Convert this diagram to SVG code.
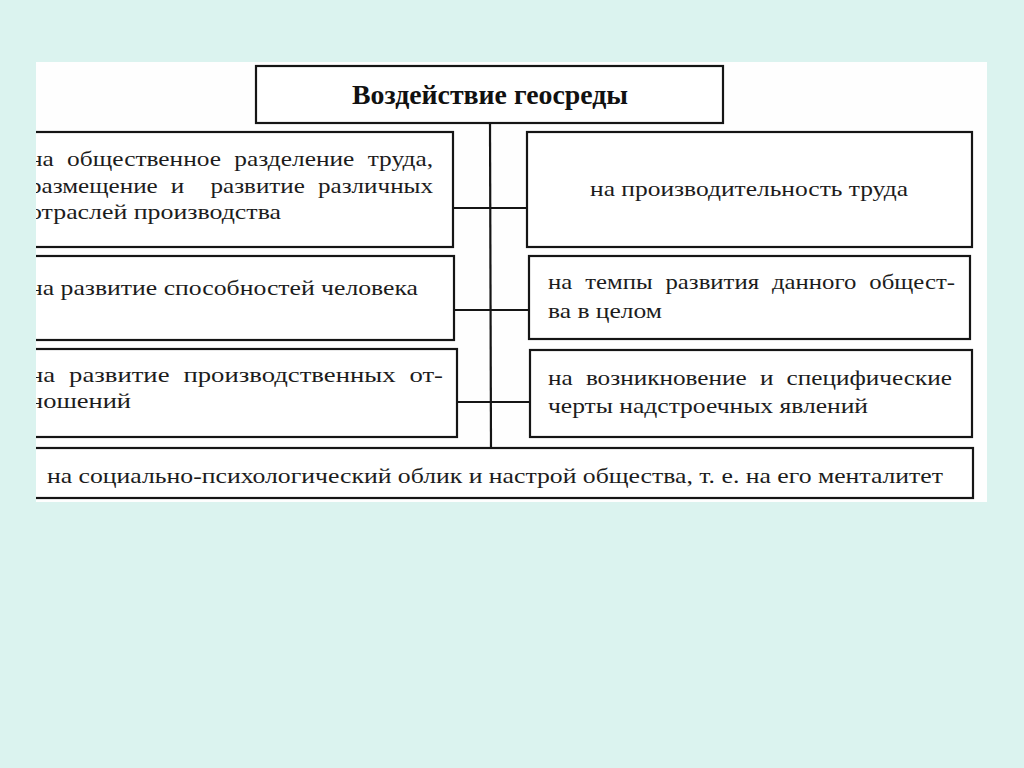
<svg xmlns="http://www.w3.org/2000/svg" width="1024" height="768" viewBox="0 0 1024 768">
  <defs>
    <style>
      .box { fill: #ffffff; stroke: #151515; stroke-width: 2.2; }
      .conn { stroke: #151515; stroke-width: 2.2; fill: none; }
      .t { font-family: "Liberation Serif", "Times New Roman", serif; font-size: 22px; fill: #1c1c1c; }
      .j { word-spacing: 6px; }
      .title { font-family: "Liberation Serif", "Times New Roman", serif; font-size: 27px; font-weight: bold; fill: #111111; }
    </style>
    <clipPath id="panelClip">
      <rect x="36" y="62" width="951" height="440"/>
    </clipPath>
  </defs>
  <rect x="0" y="0" width="1024" height="768" fill="#dbf3ef"/>
  <rect x="36" y="62" width="951" height="440" fill="#fefefe"/>
  <g clip-path="url(#panelClip)">
    <g id="connectors">
      <line class="conn" x1="490" y1="123" x2="491" y2="448"/>
      <line class="conn" x1="453" y1="208" x2="527" y2="208"/>
      <line class="conn" x1="454" y1="310" x2="529" y2="310"/>
      <line class="conn" x1="457" y1="402" x2="530" y2="402"/>
    </g>
    <g id="title">
      <rect class="box" x="256" y="66" width="467" height="57"/>
      <text class="title" x="490" y="104" text-anchor="middle" textLength="276" lengthAdjust="spacingAndGlyphs">Воздействие геосреды</text>
    </g>
    <g id="left1">
      <rect class="box" x="20" y="132" width="433" height="115"/>
      <text class="t j" x="29" y="166" textLength="404" lengthAdjust="spacingAndGlyphs">на общественное разделение труда,</text>
      <text class="t j" x="29" y="193" textLength="404" lengthAdjust="spacingAndGlyphs" xml:space="preserve">размещение и  развитие различных</text>
      <text class="t" x="29" y="219" textLength="252" lengthAdjust="spacingAndGlyphs">отраслей производства</text>
    </g>
    <g id="left2">
      <rect class="box" x="20" y="256" width="434" height="84"/>
      <text class="t" x="29" y="295" textLength="389" lengthAdjust="spacingAndGlyphs">на развитие способностей человека</text>
    </g>
    <g id="left3">
      <rect class="box" x="20" y="349" width="437" height="88"/>
      <text class="t j" x="29" y="382" textLength="414" lengthAdjust="spacingAndGlyphs">на развитие производственных от-</text>
      <text class="t" x="29" y="408" textLength="102" lengthAdjust="spacingAndGlyphs">ношений</text>
    </g>
    <g id="right1">
      <rect class="box" x="527" y="132" width="445" height="115"/>
      <text class="t" x="590" y="196" textLength="318" lengthAdjust="spacingAndGlyphs">на производительность труда</text>
    </g>
    <g id="right2">
      <rect class="box" x="529" y="256" width="441" height="83"/>
      <text class="t j" x="548" y="289" textLength="407" lengthAdjust="spacingAndGlyphs">на темпы развития данного общест-</text>
      <text class="t" x="548" y="318" textLength="114" lengthAdjust="spacingAndGlyphs">ва в целом</text>
    </g>
    <g id="right3">
      <rect class="box" x="530" y="350" width="442" height="87"/>
      <text class="t j" x="548" y="385" textLength="404" lengthAdjust="spacingAndGlyphs">на возникновение и специфические</text>
      <text class="t" x="548" y="413" textLength="320" lengthAdjust="spacingAndGlyphs">черты надстроечных явлений</text>
    </g>
    <g id="bottom">
      <rect class="box" x="20" y="448" width="953" height="50"/>
      <text class="t" x="47" y="483" textLength="896" lengthAdjust="spacingAndGlyphs">на социально-психологический облик и настрой общества, т. е. на его менталитет</text>
    </g>
  </g>
</svg>
